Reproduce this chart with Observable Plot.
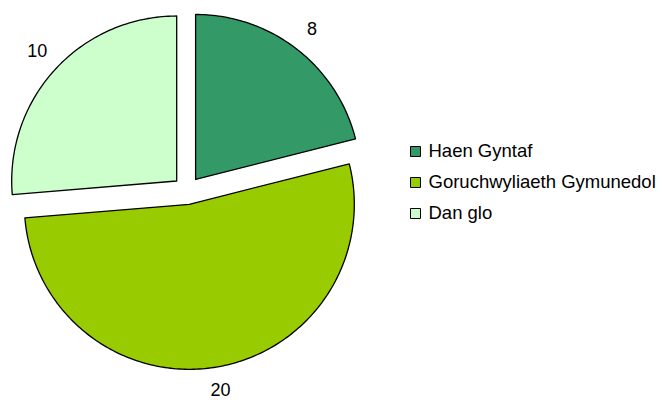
<!DOCTYPE html>
<html>
<head>
<meta charset="utf-8">
<script src="https://cdn.jsdelivr.net/npm/d3@7"></script>
<script src="https://cdn.jsdelivr.net/npm/@observablehq/plot@0.6"></script>
<style>
  html, body { margin: 0; padding: 0; background: #fff; }
  svg { display: block; }
</style>
</head>
<body>
<div id="chart"></div>
<script>
const categories = ["Haen Gyntaf", "Goruchwyliaeth Gymunedol", "Dan glo"];
const values = [8, 20, 10];
const colors = ["#339966", "#99CC00", "#CCFFCC"];

// layout
const W = 664, H = 400;
const cx = 186.5, cy = 190, R = 165, explode = 14, labelR = 189.5;

const arcs = d3.pie().sort(null).startAngle(0).endAngle(2 * Math.PI)(values);

const slicePts = [];
const labels = [];
arcs.forEach((a, i) => {
  const mid = (a.startAngle + a.endAngle) / 2;
  const vx = cx + explode * Math.sin(mid);
  const vy = cy - explode * Math.cos(mid);
  slicePts.push({cat: categories[i], x: vx, y: vy});
  const n = Math.max(2, Math.ceil((a.endAngle - a.startAngle) / (Math.PI / 180)));
  for (let k = 0; k <= n; k++) {
    const t = a.startAngle + (a.endAngle - a.startAngle) * k / n;
    slicePts.push({cat: categories[i], x: vx + R * Math.sin(t), y: vy - R * Math.cos(t)});
  }
  labels.push({text: String(values[i]), x: vx + labelR * Math.sin(mid), y: vy - labelR * Math.cos(mid) - 1});
});

const legend = categories.map((c, i) => ({cat: c, x: 415, y: 151 + i * 31}));

const chart = Plot.plot({
  width: W,
  height: H,
  margin: 0,
  style: {fontFamily: "Liberation Sans, Arial, sans-serif", background: "#fff"},
  x: {domain: [0, W], range: [0, W], axis: null},
  y: {domain: [0, H], range: [0, H], axis: null},
  color: {domain: categories, range: colors},
  marks: [
    Plot.line(slicePts, {x: "x", y: "y", z: "cat", fill: "cat", stroke: "#000", strokeWidth: 1.3, curve: "linear-closed"}),
    Plot.text(labels, {x: "x", y: "y", text: "text", fontSize: 18, fill: "#000"}),
    Plot.dot(legend, {x: "x", y: "y", fill: "cat", stroke: "#000", strokeWidth: 1, symbol: "square", r: 5.64}),
    Plot.text(legend, {x: d => d.x + 13, y: "y", text: "cat", textAnchor: "start", fontSize: 18.5, fill: "#000"})
  ]
});
document.getElementById("chart").appendChild(chart);
</script>
</body>
</html>
